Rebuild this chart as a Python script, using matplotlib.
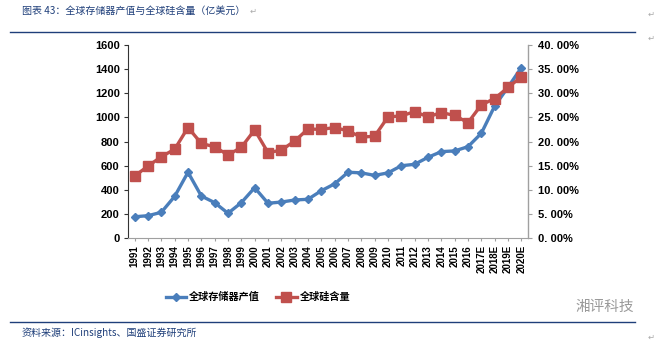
import matplotlib.pyplot as plt
from matplotlib.lines import Line2D

plt.rcParams['font.family'] = ['Liberation Sans', 'Noto Sans CJK SC', 'DejaVu Sans']

years = ['1991', '1992', '1993', '1994', '1995', '1996', '1997', '1998', '1999', '2000',
         '2001', '2002', '2003', '2004', '2005', '2006', '2007', '2008', '2009', '2010',
         '2011', '2012', '2013', '2014', '2015', '2016', '2017E', '2018E', '2019E', '2020E']

# 全球存储器产值（亿美元）
memory_value = [176, 185, 213, 345, 545, 348, 293, 205, 293, 417,
                288, 298, 315, 321, 392, 449, 545, 540, 519, 540,
                599, 611, 669, 716, 722, 757, 868, 1094, 1250, 1412]

# 全球硅含量（%）
silicon_share = [12.85, 14.9, 16.85, 18.4, 22.9, 19.6, 18.9, 17.2, 18.8, 22.4,
                 17.7, 18.2, 20.1, 22.6, 22.5, 22.9, 22.2, 20.9, 21.1, 25.1,
                 25.3, 26.2, 25.1, 26.0, 25.4, 23.9, 27.6, 28.9, 31.2, 33.4]

left_ticks = [0, 200, 400, 600, 800, 1000, 1200, 1400, 1600]
right_ticks = [0, 5, 10, 15, 20, 25, 30, 35, 40]

blue = '#4a7ebb'
red = '#c0504d'
navy = '#1f3f7a'
cjk = ['Noto Sans CJK SC', 'DejaVu Sans']

fig = plt.figure(figsize=(6.69, 3.43), dpi=100)
ax = fig.add_axes([128 / 669, 1 - 238 / 343, 400 / 669, 193 / 343])
ax2 = ax.twinx()

x = list(range(len(years)))
ax.plot(x, memory_value, color=blue, lw=2.4, marker='D', ms=4.5, zorder=3)
ax2.plot(x, silicon_share, color=red, lw=2.4, marker='s', ms=7, zorder=3)

ax.set_xlim(-0.5, len(years) - 0.5)
ax.set_ylim(0, 1600)
ax2.set_ylim(0, 40)
ax.set_yticks(left_ticks)
ax.set_yticklabels([str(v) for v in left_ticks], fontsize=8, fontweight='bold')
ax2.set_yticks(right_ticks)
ax2.set_yticklabels(['%d. 00%%' % v for v in right_ticks], fontsize=8, fontweight='bold')
ax.set_xticks(x)
ax.set_xticklabels(years, rotation=90, fontsize=7, fontweight='bold')

for a in (ax, ax2):
    a.spines['top'].set_visible(False)
ax.spines['left'].set_color('#333333')
ax.spines['bottom'].set_color('#a0a0a0')
ax2.spines['right'].set_color('#a0a0a0')
ax2.spines['left'].set_visible(False)
ax2.spines['bottom'].set_visible(False)
ax.tick_params(axis='y', length=3, width=0.8, color='#333333', pad=3)
ax.tick_params(axis='x', length=2, color='#a0a0a0', pad=3)
ax2.tick_params(axis='y', length=3, color='#a0a0a0', pad=4)

handles = [Line2D([], [], color=blue, lw=2.4, marker='D', ms=4.5),
           Line2D([], [], color=red, lw=2.4, marker='s', ms=7)]
fig.legend(handles, ['全球存储器产值', '全球硅含量'], loc='center', bbox_to_anchor=(258 / 669, 1 - 297 / 343),
           ncol=2, frameon=False, handlelength=2.0, handletextpad=0.3, columnspacing=1.6,
           prop={'family': cjk, 'weight': 'bold', 'size': 7.3})

# header and footer
fig.text(22 / 669, 1 - 11 / 343, '图表 43：全球存储器产值与全球硅含量（亿美元）', family=cjk,
         color=navy, fontsize=7.2, style='italic', va='center')
fig.add_artist(Line2D([10 / 669, 635 / 669], [1 - 32 / 343] * 2, color=navy, lw=1))
fig.add_artist(Line2D([10 / 669, 635 / 669], [1 - 322 / 343] * 2, color=navy, lw=1))
fig.text(22 / 669, 1 - 333 / 343, '资料来源：ICinsights、国盛证券研究所', family=cjk,
         color=navy, fontsize=7.2, style='italic', va='center')
fig.text(605 / 669, 1 - 307 / 343, '湘评科技', family=cjk, color='#9a9a9a', fontsize=10.5,
         ha='center', va='center')
for px, py in [(250, 11), (648, 14), (648, 38), (648, 337)]:
    fig.text(px / 669, 1 - py / 343, '↵', family=['DejaVu Sans'], color='#aaaaaa',
             fontsize=6, va='center')

fig.savefig('out.png', dpi=100)
